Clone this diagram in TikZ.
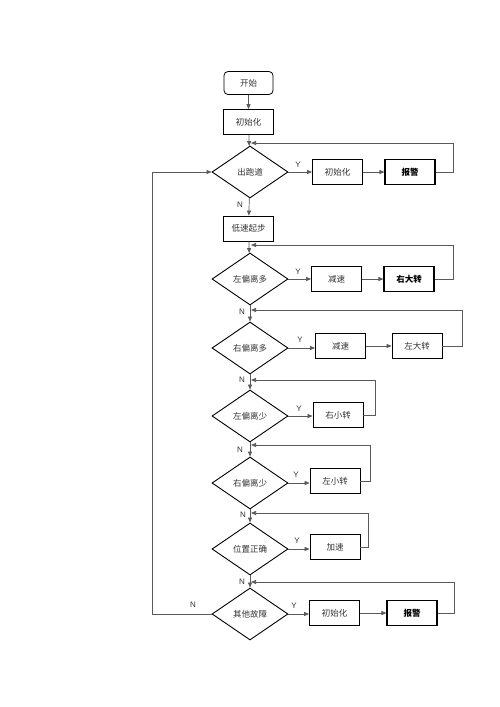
\documentclass[tikz,border=0pt]{standalone}
\usepackage{fontspec}
\usepackage{xcolor}
\usepackage{tikz}
\usetikzlibrary{shapes.geometric, arrows.meta, positioning}
\setmainfont{Liberation Sans}
\newfontfamily\cjk{Noto Sans CJK SC}
\definecolor{fcline}{HTML}{5A5A5A}
\definecolor{fctext}{HTML}{333333}

\begin{document}
\begin{tikzpicture}[x=1pt, y=-1pt,
    startbox/.style={rectangle, rounded corners=4pt, draw=black, line width=0.8pt, minimum width=49pt, minimum height=23pt, font=\cjk\fontsize{8.5}{10}\selectfont, text=fctext},
    procbox/.style={rectangle, draw=black, line width=0.8pt, minimum width=50pt, minimum height=25pt, font=\cjk\fontsize{8.5}{10}\selectfont, text=fctext},
    alarmbox/.style={procbox, line width=1.05pt, font=\cjk\bfseries\fontsize{8.5}{10}\selectfont, text=black},
    decision/.style={diamond, draw=black, line width=0.9pt, inner sep=0pt, minimum width=76pt, minimum height=52pt, font=\cjk\fontsize{8.5}{10}\selectfont, text=fctext},
    arrow/.style={-{Triangle[length=5pt, width=4pt]}, line width=0.7pt, color=fcline},
    link/.style={line width=0.7pt, color=fcline},
    yn/.style={font=\fontsize{8}{9}\selectfont, text=fctext}
]
\useasboundingbox (0,0) rectangle (500,707);

\node[startbox] (start) at (248.5,83) {开始};
\node[procbox] (init) at (248.5,122) {初始化};
\node[decision] (offtrack) at (250,172) {出跑道};
\node[procbox] (reinit) at (337.5,172) {初始化};
\node[alarmbox] (alarm) at (410,172) {报警};
\node[procbox] (slowstart) at (248.5,228.5) {低速起步};
\node[decision] (leftmuch) at (250,279) {左偏离多};
\node[procbox] (slowa) at (336.5,279) {减速};
\node[alarmbox] (bigright) at (409,279) {右大转};
\node[decision] (rightmuch) at (250,348) {右偏离多};
\node[procbox] (slowb) at (340.5,346) {减速};
\node[procbox] (bigleft) at (417,346) {左大转};
\node[decision] (leftlittle) at (250,416) {左偏离少};
\node[procbox] (smallright) at (338,415) {右小转};
\node[decision] (rightlittle) at (250,483) {右偏离少};
\node[procbox] (smallleft) at (335,481) {左小转};
\node[decision] (correct) at (250,549) {位置正确};
\node[procbox] (speedup) at (335,547) {加速};
\node[decision] (otherfault) at (250,614) {其他故障};
\node[procbox] (faultinit) at (334.5,613) {初始化};
\node[alarmbox] (faultalarm) at (412,613) {报警};

\coordinate (back1) at (251,143);
\coordinate (back2) at (251,245);
\coordinate (back3) at (251,310);
\coordinate (back4) at (251,380);
\coordinate (back5) at (251,445);
\coordinate (back6) at (251,513);
\coordinate (back7) at (251,582);

\draw[arrow] (start) -- (init);
\draw[arrow] (init) -- (offtrack);
\draw[arrow] (offtrack.east) -- (reinit.west |- offtrack.east);
\draw[arrow] (reinit) -- (alarm);
\draw[arrow] (alarm.east) -- ++(18,0) |- (back1);
\draw[arrow] (offtrack) -- (slowstart);
\draw[arrow] (slowstart) -- (leftmuch);
\draw[arrow] (leftmuch.east) -- (slowa.west |- leftmuch.east);
\draw[arrow] (slowa) -- (bigright);
\draw[arrow] (bigright.east) -- ++(19,0) |- (back2);
\draw[arrow] (leftmuch) -- (rightmuch);
\draw[arrow] (rightmuch.east) -- (slowb.west |- rightmuch.east);
\draw[arrow] (slowb) -- (bigleft);
\draw[arrow] (bigleft.east) -- ++(20,0) |- (back3);
\draw[arrow] (rightmuch) -- (leftlittle);
\draw[arrow] (leftlittle.east) -- (smallright.west |- leftlittle.east);
\draw[arrow] (smallright.east) -- ++(12,0) |- (back4);
\draw[arrow] (leftlittle) -- (rightlittle);
\draw[arrow] (rightlittle.east) -- (smallleft.west |- rightlittle.east);
\draw[arrow] (smallleft.east) -- ++(10,0) |- (back5);
\draw[arrow] (rightlittle) -- (correct);
\draw[arrow] (correct.east) -- (speedup.west |- correct.east);
\draw[arrow] (speedup.east) -- ++(8,0) |- (back6);
\draw[arrow] (correct) -- (otherfault);
\draw[arrow] (otherfault.east) -- (faultinit.west |- otherfault.east);
\draw[arrow] (faultinit) -- (faultalarm);
\draw[arrow] (faultalarm.east) -- ++(17,0) |- (back7);
\draw[arrow] (otherfault.west) -- ++(-59,0) |- (offtrack.west);

\node[yn] (y1) at (298,165) {Y};
\node[yn] (y2) at (298,272) {Y};
\node[yn] (y3) at (300,340) {Y};
\node[yn] (y4) at (299,409) {Y};
\node[yn] (y5) at (296,475) {Y};
\node[yn] (y6) at (297,541) {Y};
\node[yn] (y7) at (294,606) {Y};
\node[yn] (n1) at (240,205) {N};
\node[yn] (n2) at (242,312) {N};
\node[yn] (n3) at (242,380) {N};
\node[yn] (n4) at (240,450) {N};
\node[yn] (n5) at (243,515) {N};
\node[yn] (n6) at (242,582) {N};
\node[yn] (n7) at (193,605) {N};

\end{tikzpicture}
\end{document}
